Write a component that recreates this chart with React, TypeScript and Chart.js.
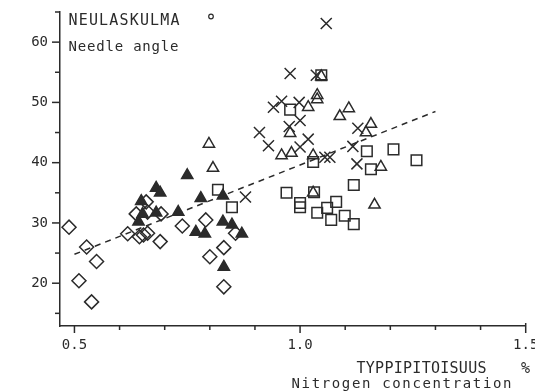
import { useEffect, useRef } from 'react';
import { Chart, registerables } from 'chart.js';

Chart.register(...registerables);

// ---- data ----
const diamonds: [number, number][] = [
  [0.488, 29.3], [0.527, 26.0], [0.51, 20.4], [0.549, 23.6], [0.538, 16.9],
  [0.618, 28.2], [0.637, 31.5], [0.644, 27.7], [0.653, 28.0], [0.662, 28.3],
  [0.659, 33.5], [0.662, 31.8], [0.692, 31.5], [0.69, 26.9], [0.739, 29.5],
  [0.791, 30.5], [0.8, 24.4], [0.831, 25.9], [0.831, 19.4], [0.857, 28.3],
];
const filledTriangles: [number, number][] = [
  [0.648, 33.6], [0.642, 30.2], [0.651, 31.5], [0.681, 35.8], [0.69, 35.0],
  [0.681, 31.7], [0.73, 31.8], [0.75, 37.9], [0.78, 34.1], [0.769, 28.5],
  [0.789, 28.2], [0.829, 34.5], [0.829, 30.2], [0.849, 29.7], [0.871, 28.2],
  [0.831, 22.7],
];
const openTriangles: [number, number][] = [
  [0.798, 43.1], [0.807, 39.1], [1.038, 50.5], [1.038, 51.2], [1.047, 54.3],
  [1.018, 49.2], [1.088, 47.7], [1.108, 49.0], [1.157, 46.4], [1.146, 45.0],
  [0.978, 44.9], [0.959, 41.2], [0.981, 41.6], [1.029, 41.2], [1.179, 39.3],
  [1.029, 35.0], [1.165, 33.0],
];
const squares: [number, number][] = [
  [0.818, 35.5], [0.849, 32.6], [0.978, 48.8], [1.047, 54.5], [1.148, 41.9],
  [1.207, 42.2], [1.258, 40.4], [1.157, 38.9], [1.029, 40.1], [1.119, 36.3],
  [0.97, 35.0], [1.0, 33.3], [1.0, 32.6], [1.031, 35.1], [1.038, 31.7],
  [1.06, 32.5], [1.08, 33.5], [1.069, 30.5], [1.099, 31.2], [1.119, 29.8],
];
const crosses: [number, number][] = [
  [1.058, 63.1], [0.978, 54.8], [1.036, 54.5], [0.941, 49.2], [0.959, 50.2],
  [0.998, 50.0], [1.0, 47.0], [0.976, 46.0], [1.018, 43.9], [1.0, 42.6],
  [0.93, 42.8], [0.91, 45.0], [1.066, 40.9], [1.055, 40.9], [1.117, 42.7],
  [1.128, 45.7], [1.126, 39.8], [0.879, 34.3],
];
const regressionLine: [number, number][] = [[0.5, 24.8], [1.3, 48.5]];

const xTickValues = [0.5, 0.6, 0.7, 0.8, 0.9, 1.0, 1.1, 1.2, 1.3, 1.4, 1.5];
const xLabelValues = [0.5, 1.0, 1.5];
const yTickValues = [15, 20, 25, 30, 35, 40, 45, 50, 55, 60, 65];
const yLabelValues = [20, 30, 40, 50, 60];

const titleMain = 'NEULASKULMA';
const titleSub = 'Needle angle';
const xTitleMain = 'TYPPIPITOISUUS';
const xTitleUnit = '%';
const xTitleSub = 'Nitrogen concentration';

const INK = '#2b2b2b';
const FONT = 'DejaVu Sans Mono';

const toPts = (a: [number, number][]) => a.map(([x, y]) => ({ x, y }));
const isLabelX = (v: number) => xLabelValues.some((l) => Math.abs(l - v) < 1e-6);

function drawSpread(ctx: CanvasRenderingContext2D, text: string, x: number, y: number, width: number) {
  const chars = Array.from(text);
  const widths = chars.map((c) => ctx.measureText(c).width);
  const total = widths.reduce((s, w) => s + w, 0);
  const extra = chars.length > 1 ? (width - total) / (chars.length - 1) : 0;
  let cx = x;
  chars.forEach((c, i) => {
    ctx.fillText(c, cx, y);
    cx += widths[i] + extra;
  });
}

const decorPlugin = {
  id: 'decor',
  afterDraw(chart: any) {
    const ctx: CanvasRenderingContext2D = chart.ctx;
    const xs = chart.scales.x;
    const ys = chart.scales.y;
    const left = chart.chartArea.left;
    const bottom = chart.chartArea.bottom;
    ctx.save();
    ctx.strokeStyle = INK;
    ctx.fillStyle = INK;
    ctx.lineWidth = 1.5;
    ctx.setLineDash([]);
    // y tick marks
    for (const v of yTickValues) {
      const py = ys.getPixelForValue(v);
      const len = yLabelValues.includes(v) ? 8 : 5;
      ctx.beginPath();
      ctx.moveTo(left - len, py);
      ctx.lineTo(left, py);
      ctx.stroke();
    }
    // x tick marks
    for (const v of xTickValues) {
      const px = xs.getPixelForValue(v);
      const len = isLabelX(v) ? 7 : 4;
      ctx.beginPath();
      ctx.moveTo(px, bottom - (v === 1.5 ? 3 : 0));
      ctx.lineTo(px, bottom + len);
      ctx.stroke();
    }
    // x tick labels
    ctx.font = `14px "${FONT}"`;
    ctx.textAlign = 'center';
    ctx.textBaseline = 'alphabetic';
    for (const v of xLabelValues) {
      ctx.fillText(v.toFixed(1), xs.getPixelForValue(v), 348.5);
    }
    // texts
    ctx.textAlign = 'left';
    ctx.font = `15px "${FONT}"`;
    drawSpread(ctx, titleMain, 68.5, 25, 111);
    ctx.font = `14px "${FONT}"`;
    drawSpread(ctx, titleSub, 68.5, 50.5, 110);
    ctx.beginPath();
    ctx.lineWidth = 1.2;
    ctx.arc(211, 16.5, 2.3, 0, Math.PI * 2);
    ctx.stroke();
    ctx.font = `15px "${FONT}"`;
    drawSpread(ctx, xTitleMain, 356.5, 372.5, 130);
    ctx.fillText(xTitleUnit, 521, 372.5);
    ctx.font = `14px "${FONT}"`;
    drawSpread(ctx, xTitleSub, 291.5, 387.5, 220);
    ctx.restore();
  },
};

export default function App() {
  const ref = useRef<HTMLCanvasElement | null>(null);
  useEffect(() => {
    document.body.style.margin = '0';
    const canvas = ref.current;
    if (!canvas) return;
    const common = { showLine: false, borderColor: INK, borderWidth: 1.5 };
    const chart = new Chart(canvas, {
      type: 'scatter',
      data: {
        datasets: [
          {
            type: 'line',
            label: 'Regression',
            data: toPts(regressionLine),
            borderColor: INK,
            borderWidth: 1.5,
            borderDash: [6, 5],
            pointRadius: 0,
            fill: false,
          } as any,
          { label: 'Diamonds', data: toPts(diamonds), ...common, pointStyle: 'rectRot', pointRadius: 7, backgroundColor: 'rgba(0,0,0,0)' },
          { label: 'Filled triangles', data: toPts(filledTriangles), ...common, pointStyle: 'triangle', pointRadius: 6.5, backgroundColor: INK },
          { label: 'Open triangles', data: toPts(openTriangles), ...common, pointStyle: 'triangle', pointRadius: 6.5, backgroundColor: 'rgba(0,0,0,0)' },
          { label: 'Squares', data: toPts(squares), ...common, pointStyle: 'rect', pointRadius: 7.5, backgroundColor: 'rgba(0,0,0,0)' },
          { label: 'Crosses', data: toPts(crosses), ...common, pointStyle: 'crossRot', pointRadius: 7.8, backgroundColor: 'rgba(0,0,0,0)' },
        ],
      },
      options: {
        responsive: false,
        animation: false,
        devicePixelRatio: 1,
        layout: { padding: { left: 0, right: 3, top: 12, bottom: 0 } },
        plugins: { legend: { display: false }, tooltip: { enabled: false } },
        scales: {
          x: {
            type: 'linear',
            min: 0.468,
            max: 1.5,
            afterBuildTicks: (scale: any) => {
              scale.ticks = xTickValues.map((value) => ({ value }));
            },
            afterFit: (scale: any) => {
              scale.height = 66;
              scale.paddingLeft = 0;
              scale.paddingRight = 0;
            },
            grid: { display: false, drawTicks: false },
            border: { display: true, color: INK, width: 1.5 },
            ticks: { display: false },
          },
          y: {
            type: 'linear',
            min: 12.9,
            max: 65,
            afterBuildTicks: (scale: any) => {
              scale.ticks = yTickValues.map((value) => ({ value }));
            },
            afterFit: (scale: any) => {
              scale.width = 60;
              scale.paddingTop = 0;
              scale.paddingBottom = 0;
            },
            grid: { display: false, drawTicks: false },
            border: { display: true, color: INK, width: 1.5 },
            ticks: {
              autoSkip: false,
              padding: 12,
              color: INK,
              font: { family: FONT, size: 14 },
              callback: (v: any) => (yLabelValues.includes(Number(v)) ? String(v) : ''),
            },
          },
        },
      },
      plugins: [decorPlugin],
    } as any);
    return () => chart.destroy();
  }, []);
  return (
    <div style={{ width: 535, height: 392, background: '#fff' }}>
      <canvas ref={ref} width={535} height={392} style={{ display: 'block' }} />
    </div>
  );
}
